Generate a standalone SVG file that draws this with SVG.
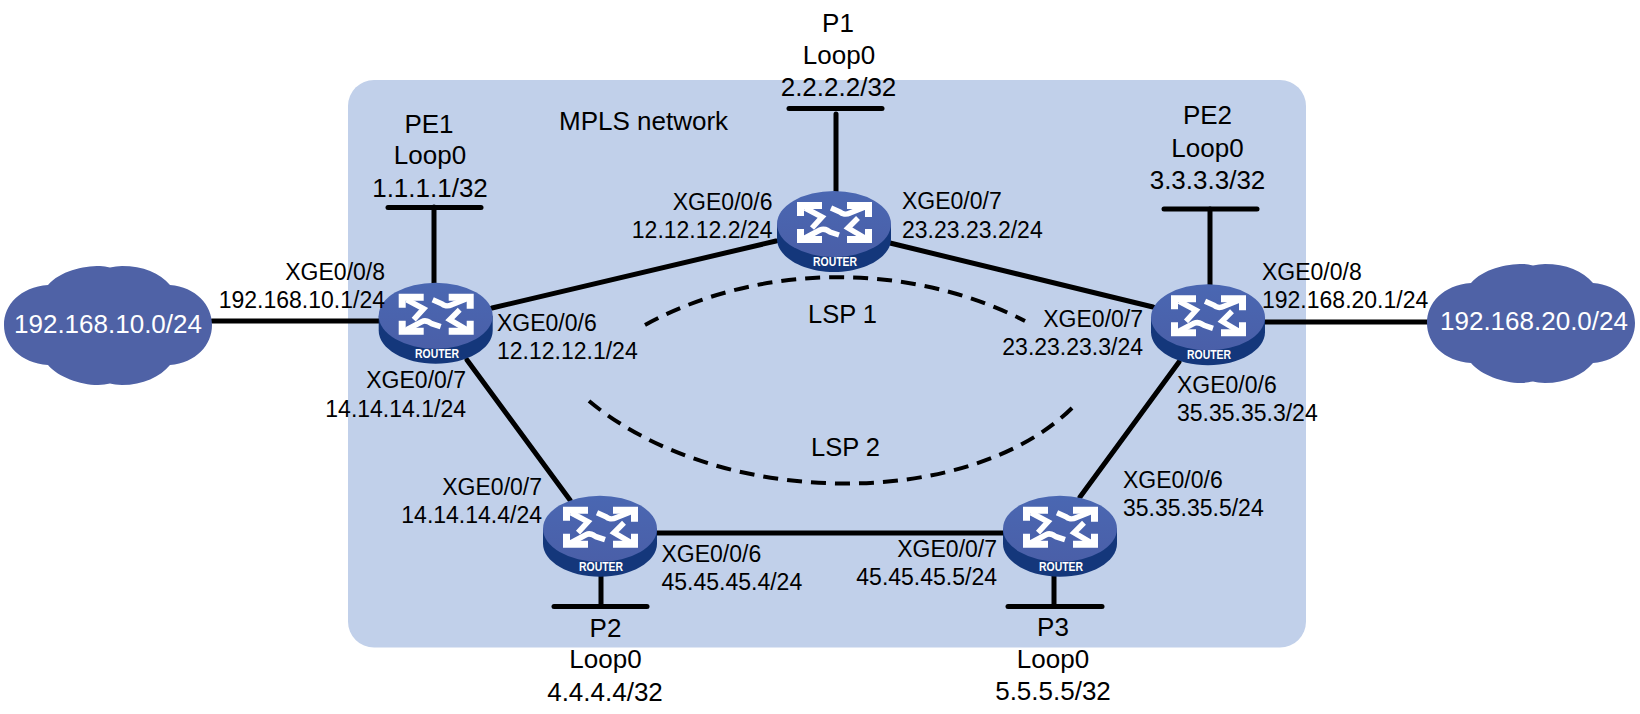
<svg xmlns="http://www.w3.org/2000/svg" width="1640" height="714" viewBox="0 0 1640 714">
<style>
text{font-family:"Liberation Sans",Arial,sans-serif;font-size:23px;fill:#000}
.c{text-anchor:middle;font-size:26px}
.m{font-size:26px}
.e{text-anchor:end}
.cw{fill:#fff;font-size:26px;text-anchor:middle}
.lsp{font-size:25.5px}
.ln{stroke:#000;stroke-width:5;fill:none;stroke-linecap:round}
.ds{stroke:#000;stroke-width:4;fill:none;stroke-dasharray:15 9}
.rt{fill:#fff;font-size:13px;font-weight:bold;text-anchor:middle}
.ar{stroke:#fff;stroke-width:5.5;fill:none}
</style>
<defs>
<linearGradient id="top" x1="0" y1="0" x2="0" y2="1"><stop offset="0" stop-color="#4a67b2"/><stop offset="1" stop-color="#4a5fa8"/></linearGradient>
<g id="router">
<path d="M-57 0V15C-57 33-31 48 0 48S57 33 57 15V0Z" fill="#14377b"/>
<ellipse cx="0" cy="0" rx="57" ry="33" fill="url(#top)"/>
<path fill="#fff" d="M-37-22H-12V-15H-30V-8H-37Z"/>
<path fill="#fff" d="M38-22H13V-15H31V-7H38Z"/>
<path fill="#fff" d="M-37 19H-12V12H-30V5H-37Z"/>
<path fill="#fff" d="M38 19H13V12H31V5H38Z"/>
<path class="ar" d="M-29-16L-12-7L-22 4"/>
<path class="ar" d="M31-17L16-11C12-9 8-10 6-12L-3-16"/>
<path class="ar" d="M-29 14L-14 6C-10 4-7 6-4 8L5 11"/>
<path class="ar" d="M31 14L14 4L24-6"/>
</g>
<path id="cloud" d="M-60-40C-48-54-25-59-8-59C-4-59-2-58 2-57.5C6-58 10-59 14-59C35-59 52-52 62-40C88-38 104-20 104 0C104 20 88 38 62 40C52 52 35 60 14 60C9 60 5 59 2 58.5C-2 59-5 60-10 60C-28 60-50 52-60 40C-88 38-104 20-104 0C-104-20-88-38-60-40Z"/>
</defs>
<rect id="panel" x="348" y="80" width="958" height="567.5" rx="26" fill="#c1d0ea"/>
<g id="connectors">
<path class="ln" d="M212 321H380"/>
<path class="ln" d="M1264 322H1428"/>
<path class="ln" d="M492 308L776 241"/>
<path class="ln" d="M890 243L1153 307"/>
<path class="ln" d="M467 360L570 500"/>
<path class="ln" d="M1179 362L1080 497"/>
<path class="ln" d="M657 533H1003"/>
<path class="ln" d="M434 207V284"/>
<path class="ln" d="M388 207.5H481"/>
<path class="ln" d="M836 114V192"/>
<path class="ln" d="M789 108.5H882"/>
<path class="ln" d="M1210 209V285"/>
<path class="ln" d="M1164 209H1257"/>
<path class="ln" d="M601 575V606"/>
<path class="ln" d="M554 606.5H647"/>
<path class="ln" d="M1054 575V606"/>
<path class="ln" d="M1008 606.5H1102"/>
<path class="ds" d="M645 325C760 262 910 262 1025 321"/>
<path class="ds" d="M589 401C720 510 970 510 1073 407"/>
</g>
<g id="cloud-left"><use href="#cloud" x="108" y="325" fill="#4f62a6"/><text class="cw" x="108" y="333">192.168.10.0/24</text></g>
<g id="cloud-right"><use href="#cloud" x="1531" y="323" fill="#4f62a6"/><text class="cw" x="1534" y="330">192.168.20.0/24</text></g>
<g id="PE1"><use href="#router" x="435.7" y="315.7"/><text class="rt" x="437" y="358" textLength="44" lengthAdjust="spacingAndGlyphs">ROUTER</text></g>
<g id="P1"><use href="#router" x="834" y="224"/><text class="rt" x="835" y="266" textLength="44" lengthAdjust="spacingAndGlyphs">ROUTER</text></g>
<g id="PE2"><use href="#router" x="1208" y="317.3"/><text class="rt" x="1209" y="359" textLength="44" lengthAdjust="spacingAndGlyphs">ROUTER</text></g>
<g id="P2"><use href="#router" x="600" y="528.7"/><text class="rt" x="601" y="571" textLength="44" lengthAdjust="spacingAndGlyphs">ROUTER</text></g>
<g id="P3"><use href="#router" x="1060" y="528.7"/><text class="rt" x="1061" y="571" textLength="44" lengthAdjust="spacingAndGlyphs">ROUTER</text></g>
<g id="labels">
<text class="c" x="838" y="32">P1</text><text class="c" x="839" y="63.5">Loop0</text><text class="c" x="838.5" y="96">2.2.2.2/32</text>
<text class="m" x="559" y="130">MPLS network</text>
<text class="c" x="429" y="132.5">PE1</text><text class="c" x="430" y="164">Loop0</text><text class="c" x="430" y="196.5">1.1.1.1/32</text>
<text class="c" x="1207.5" y="124">PE2</text><text class="c" x="1207.5" y="156.5">Loop0</text><text class="c" x="1207.5" y="188.5">3.3.3.3/32</text>
<text class="e" x="385" y="280">XGE0/0/8</text><text class="e" x="385" y="308">192.168.10.1/24</text>
<text x="497" y="331">XGE0/0/6</text><text x="497" y="359">12.12.12.1/24</text>
<text class="e" x="466" y="388">XGE0/0/7</text><text class="e" x="466" y="416.5">14.14.14.1/24</text>
<text class="e" x="772.5" y="209.5">XGE0/0/6</text><text class="e" x="772.5" y="237.5">12.12.12.2/24</text>
<text x="902" y="209">XGE0/0/7</text><text x="902" y="237.5">23.23.23.2/24</text>
<text class="e" x="1143" y="326.5">XGE0/0/7</text><text class="e" x="1143" y="355">23.23.23.3/24</text>
<text x="1262" y="279.5">XGE0/0/8</text><text x="1262" y="307.5">192.168.20.1/24</text>
<text x="1177" y="393">XGE0/0/6</text><text x="1177" y="421">35.35.35.3/24</text>
<text x="1123" y="487.5">XGE0/0/6</text><text x="1123" y="516">35.35.35.5/24</text>
<text class="e" x="542" y="495">XGE0/0/7</text><text class="e" x="542" y="523">14.14.14.4/24</text>
<text x="661.5" y="561.5">XGE0/0/6</text><text x="661.5" y="590">45.45.45.4/24</text>
<text class="e" x="997" y="557">XGE0/0/7</text><text class="e" x="997" y="585">45.45.45.5/24</text>
<text class="lsp" x="808" y="323">LSP 1</text><text class="lsp" x="811" y="455.5">LSP 2</text>
<text class="c" x="605.5" y="636.5">P2</text><text class="c" x="605.5" y="668">Loop0</text><text class="c" x="605" y="700.5">4.4.4.4/32</text>
<text class="c" x="1053" y="635.5">P3</text><text class="c" x="1053" y="668">Loop0</text><text class="c" x="1053" y="700">5.5.5.5/32</text>
</g>
</svg>
